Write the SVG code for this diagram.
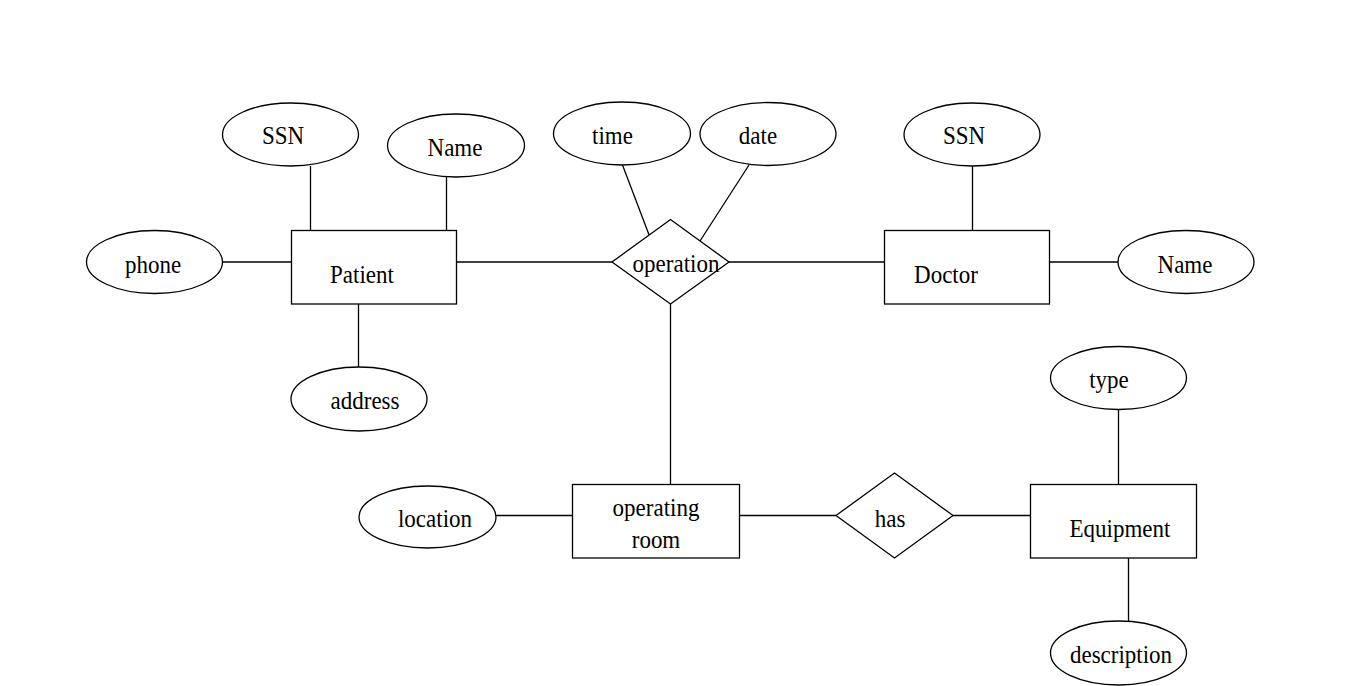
<svg xmlns="http://www.w3.org/2000/svg" width="1351" height="686" viewBox="0 0 1351 686">
<style>
.s{fill:#fff;stroke:#000;stroke-width:1.3}
.c line{stroke:#000;stroke-width:1.3}
text{font-family:"Liberation Serif","Times New Roman",serif;font-size:23px;fill:#000;text-anchor:middle}
</style>
<rect width="1351" height="686" fill="#fff"/>
<g class="c" id="connectors">
<line x1="310.5" y1="166" x2="310.5" y2="230"/>
<line x1="446.5" y1="177" x2="446.5" y2="230"/>
<line x1="222" y1="262" x2="291" y2="262"/>
<line x1="358.5" y1="304" x2="358.5" y2="367"/>
<line x1="456" y1="262" x2="612" y2="262"/>
<line x1="622.5" y1="165" x2="651" y2="240"/>
<line x1="749" y1="165" x2="700" y2="241"/>
<line x1="729" y1="262" x2="884" y2="262"/>
<line x1="972.5" y1="166" x2="972.5" y2="230"/>
<line x1="1049" y1="262" x2="1118" y2="262"/>
<line x1="670.5" y1="304" x2="670.5" y2="484"/>
<line x1="496" y1="515.5" x2="572" y2="515.5"/>
<line x1="739" y1="515.5" x2="836" y2="515.5"/>
<line x1="953" y1="515.5" x2="1030" y2="515.5"/>
<line x1="1118.5" y1="409" x2="1118.5" y2="484"/>
<line x1="1128.5" y1="558" x2="1128.5" y2="621"/>
</g>
<g id="patient_ssn"><ellipse class="s" cx="290.5" cy="134.5" rx="68" ry="31.5"/><text transform="translate(283 144) scale(1 1.1)">SSN</text></g>
<g id="patient_name"><ellipse class="s" cx="456" cy="145.5" rx="68.5" ry="31.5"/><text transform="translate(455 156) scale(1 1.1)">Name</text></g>
<g id="phone"><ellipse class="s" cx="154.5" cy="262" rx="68" ry="31.5"/><text transform="translate(153 273) scale(1 1.1)">phone</text></g>
<g id="patient"><rect class="s" x="291.5" y="230.5" width="165" height="73.5"/><text transform="translate(362 283) scale(1 1.1)">Patient</text></g>
<g id="address"><ellipse class="s" cx="359" cy="399" rx="68" ry="32"/><text transform="translate(365 409) scale(1 1.1)">address</text></g>
<g id="time"><ellipse class="s" cx="622" cy="133.5" rx="68.5" ry="31.5"/><text transform="translate(612.5 144) scale(1 1.1)">time</text></g>
<g id="date"><ellipse class="s" cx="768" cy="134" rx="68" ry="31.5"/><text transform="translate(758 144) scale(1 1.1)">date</text></g>
<g id="operation"><polygon class="s" points="612,262 670.5,219.5 729,262 670.5,304"/><text transform="translate(676 272) scale(1 1.1)">operation</text></g>
<g id="doctor_ssn"><ellipse class="s" cx="972" cy="134.5" rx="68" ry="31.5"/><text transform="translate(964 144) scale(1 1.1)">SSN</text></g>
<g id="doctor"><rect class="s" x="884.5" y="230.5" width="165" height="73.5"/><text transform="translate(946 283) scale(1 1.1)">Doctor</text></g>
<g id="doctor_name"><ellipse class="s" cx="1186" cy="262" rx="68" ry="31.5"/><text transform="translate(1185 273) scale(1 1.1)">Name</text></g>
<g id="location"><ellipse class="s" cx="427.5" cy="517" rx="68.5" ry="31"/><text transform="translate(435 527) scale(1 1.1)">location</text></g>
<g id="operating_room"><rect class="s" x="572.5" y="484.5" width="167" height="73.5"/><text transform="translate(656 516) scale(1 1.1)">operating</text><text transform="translate(656 548) scale(1 1.1)">room</text></g>
<g id="has"><polygon class="s" points="836,515.5 894.5,473 953,515.5 894.5,558"/><text transform="translate(890 527) scale(1 1.1)">has</text></g>
<g id="type"><ellipse class="s" cx="1118.5" cy="378" rx="68" ry="31.5"/><text transform="translate(1109 388) scale(1 1.1)">type</text></g>
<g id="equipment"><rect class="s" x="1030.5" y="484.5" width="166" height="73.5"/><text transform="translate(1120 537) scale(1 1.1)">Equipment</text></g>
<g id="description"><ellipse class="s" cx="1118.5" cy="653" rx="68" ry="32"/><text transform="translate(1121 663) scale(1 1.1)">description</text></g>
</svg>
